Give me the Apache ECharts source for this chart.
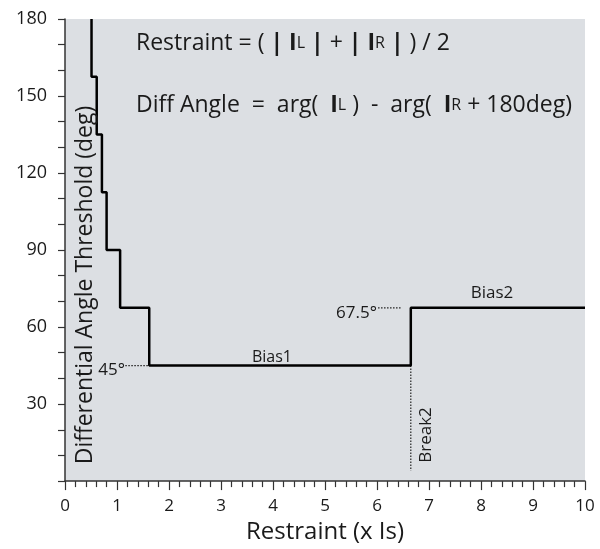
<!DOCTYPE html>
<html>
<head>
<meta charset="utf-8">
<script src="https://cdn.jsdelivr.net/npm/echarts@6/dist/echarts.min.js"></script>
<style>html,body{margin:0;padding:0;background:#fff}#c{width:600px;height:549px}</style>
</head>
<body>
<div id="c"></div>
<script>
// Step characteristic: restraint break points (x Is) and angle levels (deg)
var stepX = [0.51, 0.61, 0.71, 0.80, 1.06, 1.62, 6.65];
var stepLevels = [180, 157.5, 135, 112.5, 90, 67.5, 45, 67.5];
var xEnd = 10;
var xTicks = [0,1,2,3,4,5,6,7,8,9,10];
var yTicks = [30,60,90,120,150,180];
// Dotted guide lines
var guide45 = [[1.16, 45], [1.62, 45]];
var guide675 = [[6.02, 67.5], [6.48, 67.5]];
var guideBreak2 = [[6.65, 45], [6.65, 4]];

var curve = [[stepX[0], stepLevels[0]]];
for (var i = 0; i < stepX.length; i++) {
  curve.push([stepX[i], stepLevels[i+1]]);
  curve.push([i + 1 < stepX.length ? stepX[i+1] : xEnd, stepLevels[i+1]]);
}

var font = 'Open Sans';
var txt = '#1a1a1a';
var chart = echarts.init(document.getElementById('c'), null, {renderer: 'canvas'});
var dotted = {color: '#222', width: 1.2, type: [1.5, 1.5]};
chart.setOption({
  animation: false,
  grid: {left: 65, right: 15, top: 19, bottom: 61, show: true, backgroundColor: '#dcdfe3', borderWidth: 0},
  xAxis: {
    type: 'value', min: 0, max: 10, interval: 1,
    axisLine: {lineStyle: {color: '#333', width: 1.5}},
    axisTick: {show: true, length: 9, lineStyle: {color: '#333', width: 1.2}},
    minorTick: {show: true, splitNumber: 5, length: 6, lineStyle: {color: '#333', width: 1.2}},
    splitLine: {show: false},
    axisLabel: {fontFamily: font, fontSize: 17, color: txt, margin: 17,
      formatter: function(v){ return xTicks.indexOf(v) >= 0 ? String(v) : ''; }},
    name: 'Restraint (x Is)', nameLocation: 'middle', nameGap: 37,
    nameTextStyle: {fontFamily: font, fontSize: 24, color: txt}
  },
  yAxis: {
    type: 'value', min: 0, max: 180, interval: 30,
    axisLine: {show: true, lineStyle: {color: '#333', width: 1.5}},
    axisTick: {show: true, length: 7, lineStyle: {color: '#333', width: 1.2}},
    minorTick: {show: true, splitNumber: 3, length: 7, lineStyle: {color: '#333', width: 1.2}},
    splitLine: {show: false},
    axisLabel: {fontFamily: font, fontSize: 18, color: txt, margin: 18,
      formatter: function(v){ return yTicks.indexOf(v) >= 0 ? String(v) : ''; }}
  },
  series: [
    {type: 'line', data: curve, symbol: 'none', lineStyle: {color: '#000', width: 2.5}, z: 5},
    {type: 'line', data: guide45, symbol: 'none', lineStyle: dotted},
    {type: 'line', data: guide675, symbol: 'none', lineStyle: dotted},
    {type: 'line', data: guideBreak2, symbol: 'none', lineStyle: dotted}
  ],
  graphic: [
    {type: 'text', left: 136, top: 32, z: 10, style: {
      text: 'Restraint = ( {b|| I}{s|L} {b||} + {b||} {b|I}{s|R} {b||} ) / 2',
      font: '23px "Open Sans"', fill: txt,
      rich: {b: {fontFamily: font, fontSize: 23, fontWeight: 'bold', color: txt},
             s: {fontFamily: font, fontSize: 16, color: txt}}
    }},
    {type: 'text', left: 136, top: 94, z: 10, style: {
      text: 'Diff Angle  =  arg(  {b|I}{s|L} )  -  arg(  {b|I}{s|R} + 180deg)',
      font: '23px "Open Sans"', fill: txt,
      rich: {b: {fontFamily: font, fontSize: 23, fontWeight: 'bold', color: txt},
             s: {fontFamily: font, fontSize: 16, color: txt}}
    }},
    {type: 'text', x: 85, y: 285, rotation: Math.PI/2, z: 10, style: {
      text: 'Differential Angle Threshold (deg)', font: '23px "Open Sans"', fill: txt,
      align: 'center', verticalAlign: 'middle'}},
    {type: 'text', x: 272, y: 357, z: 10, style: {text: 'Bias1', font: '16px "Open Sans"', fill: txt, align: 'center', verticalAlign: 'middle'}},
    {type: 'text', x: 492, y: 293, z: 10, style: {text: 'Bias2', font: '17px "Open Sans"', fill: txt, align: 'center', verticalAlign: 'middle'}},
    {type: 'text', x: 377, y: 313, z: 10, style: {text: '67.5°', font: '17px "Open Sans"', fill: txt, align: 'right', verticalAlign: 'middle'}},
    {type: 'text', x: 125, y: 370, z: 10, style: {text: '45°', font: '17px "Open Sans"', fill: txt, align: 'right', verticalAlign: 'middle'}},
    {type: 'text', x: 426, y: 435, rotation: Math.PI/2, z: 10, style: {text: 'Break2', font: '17px "Open Sans"', fill: txt, align: 'center', verticalAlign: 'middle'}}
  ]
});
</script>
</body>
</html>
